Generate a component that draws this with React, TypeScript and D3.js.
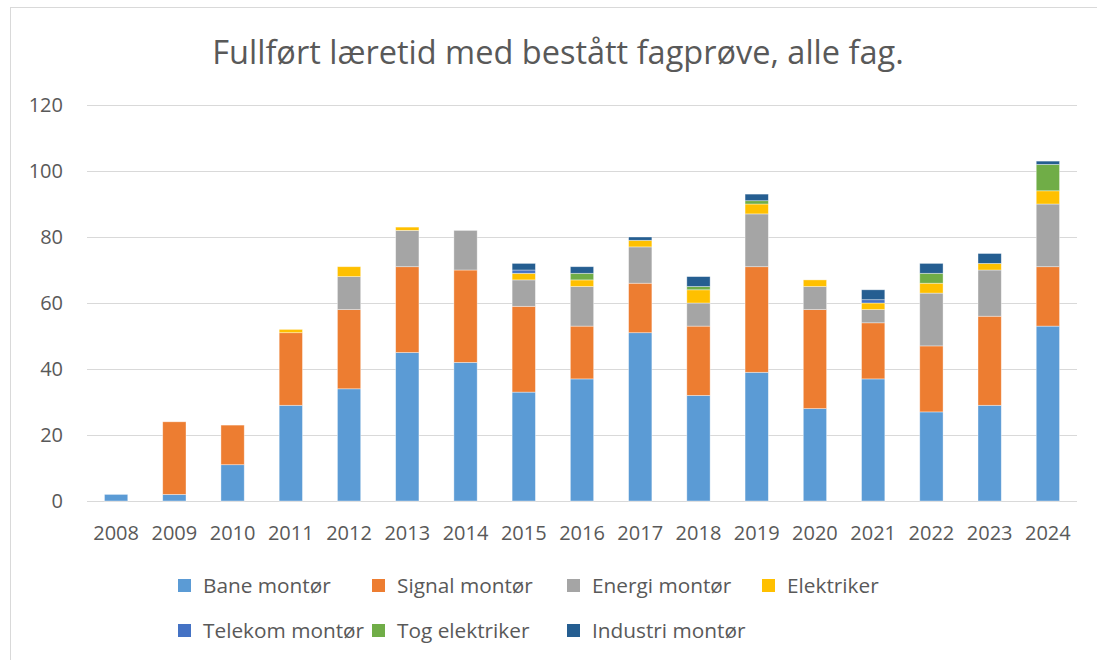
import * as d3 from "d3";
import { useEffect, useRef } from "react";

const years = ["2008", "2009", "2010", "2011", "2012", "2013", "2014", "2015", "2016", "2017", "2018", "2019", "2020", "2021", "2022", "2023", "2024"];

const seriesNames = ["Bane montør", "Signal montør", "Energi montør", "Elektriker", "Telekom montør", "Tog elektriker", "Industri montør"];
const seriesColors = ["#5b9bd5", "#ed7d31", "#a5a5a5", "#ffc000", "#4472c4", "#70ad47", "#255e91"];

const bane = [2, 2, 11, 29, 34, 45, 42, 33, 37, 51, 32, 39, 28, 37, 27, 29, 53];
const signal = [0, 22, 12, 22, 24, 26, 28, 26, 16, 15, 21, 32, 30, 17, 20, 27, 18];
const energi = [0, 0, 0, 0, 10, 11, 12, 8, 12, 11, 7, 16, 7, 4, 16, 14, 19];
const elektriker = [0, 0, 0, 1, 3, 1, 0, 2, 2, 2, 4, 3, 2, 2, 3, 2, 4];
const telekom = [0, 0, 0, 0, 0, 0, 0, 1, 0, 0, 0, 0, 0, 1, 0, 0, 0];
const togElektriker = [0, 0, 0, 0, 0, 0, 0, 0, 2, 0, 1, 1, 0, 0, 3, 0, 8];
const industri = [0, 0, 0, 0, 0, 0, 0, 2, 2, 1, 3, 2, 0, 3, 3, 3, 1];

const yTicks = [0, 20, 40, 60, 80, 100, 120];

const W = 1097;
const H = 660;

export default function App() {
  const ref = useRef<SVGSVGElement>(null);

  useEffect(() => {
    const svg = d3.select(ref.current);
    svg.selectAll("*").remove();

    const font = "'Open Sans', sans-serif";
    const textColor = "#595959";

    // chart frame
    svg.append("rect")
      .attr("x", 10.5).attr("y", 7.5)
      .attr("width", 1200).attr("height", 800)
      .attr("fill", "#fff").attr("stroke", "#d9d9d9");

    const x = d3.scaleBand().domain(years).range([87, 1077]).paddingInner(0.6).paddingOuter(0.3);
    const y = d3.scaleLinear().domain([0, 120]).range([501, 105]);

    const table = years.map((yr, i) => ({
      year: yr,
      "Bane montør": bane[i],
      "Signal montør": signal[i],
      "Energi montør": energi[i],
      "Elektriker": elektriker[i],
      "Telekom montør": telekom[i],
      "Tog elektriker": togElektriker[i],
      "Industri montør": industri[i],
    }));

    const stacked = d3.stack<any>().keys(seriesNames)(table);
    const color = d3.scaleOrdinal<string, string>(seriesNames, seriesColors);

    // grid
    svg.append("g")
      .selectAll("line")
      .data(yTicks)
      .join("line")
      .attr("x1", 87).attr("x2", 1077)
      .attr("y1", d => Math.round(y(d)) + 0.5).attr("y2", d => Math.round(y(d)) + 0.5)
      .attr("stroke", "#d9d9d9").attr("stroke-width", 1);

    svg.append("g")
      .selectAll("text")
      .data(yTicks)
      .join("text")
      .attr("x", 63).attr("y", d => y(d))
      .attr("dy", "0.35em")
      .attr("text-anchor", "end")
      .attr("font-family", font).attr("font-size", 20)
      .attr("fill", textColor)
      .text(d => d);

    // bars
    svg.append("g")
      .selectAll("g")
      .data(stacked)
      .join("g")
      .attr("fill", d => color(d.key))
      .selectAll("rect")
      .data(d => d)
      .join("rect")
      .attr("x", d => x(d.data.year)!)
      .attr("width", x.bandwidth())
      .attr("y", d => y(d[1]))
      .attr("height", d => y(d[0]) - y(d[1]))
      .attr("stroke", d => (d[1] - d[0] > 0 ? "#ffffff" : "none"))
      .attr("stroke-opacity", 0.5)
      .attr("stroke-width", 0.75);

    // x labels
    svg.append("g")
      .selectAll("text")
      .data(years)
      .join("text")
      .attr("x", d => x(d)! + x.bandwidth() / 2)
      .attr("y", 540)
      .attr("text-anchor", "middle")
      .attr("font-family", font).attr("font-size", 20)
      .attr("fill", textColor)
      .text(d => d);

    // title
    svg.append("text")
      .attr("x", 558).attr("y", 64)
      .attr("text-anchor", "middle")
      .attr("font-family", font).attr("font-size", 32.5)
      .attr("fill", textColor)
      .text("Fullført læretid med bestått fagprøve, alle fag.");

    // legend
    const legendX = [178, 372, 567, 762];
    const legend = svg.append("g")
      .selectAll("g")
      .data(seriesNames)
      .join("g")
      .attr("transform", (d, i) => `translate(${legendX[i % 4]},${i < 4 ? 579 : 624})`);
    legend.append("rect")
      .attr("width", 13).attr("height", 13)
      .attr("fill", d => color(d));
    legend.append("text")
      .attr("x", 25).attr("y", 14)
      .attr("font-family", font).attr("font-size", 20.8)
      .attr("fill", textColor)
      .text(d => d);
  }, []);

  return (
    <div style={{ position: "absolute", left: 0, top: 0 }}>
      <svg ref={ref} width={W} height={H} />
    </div>
  );
}
